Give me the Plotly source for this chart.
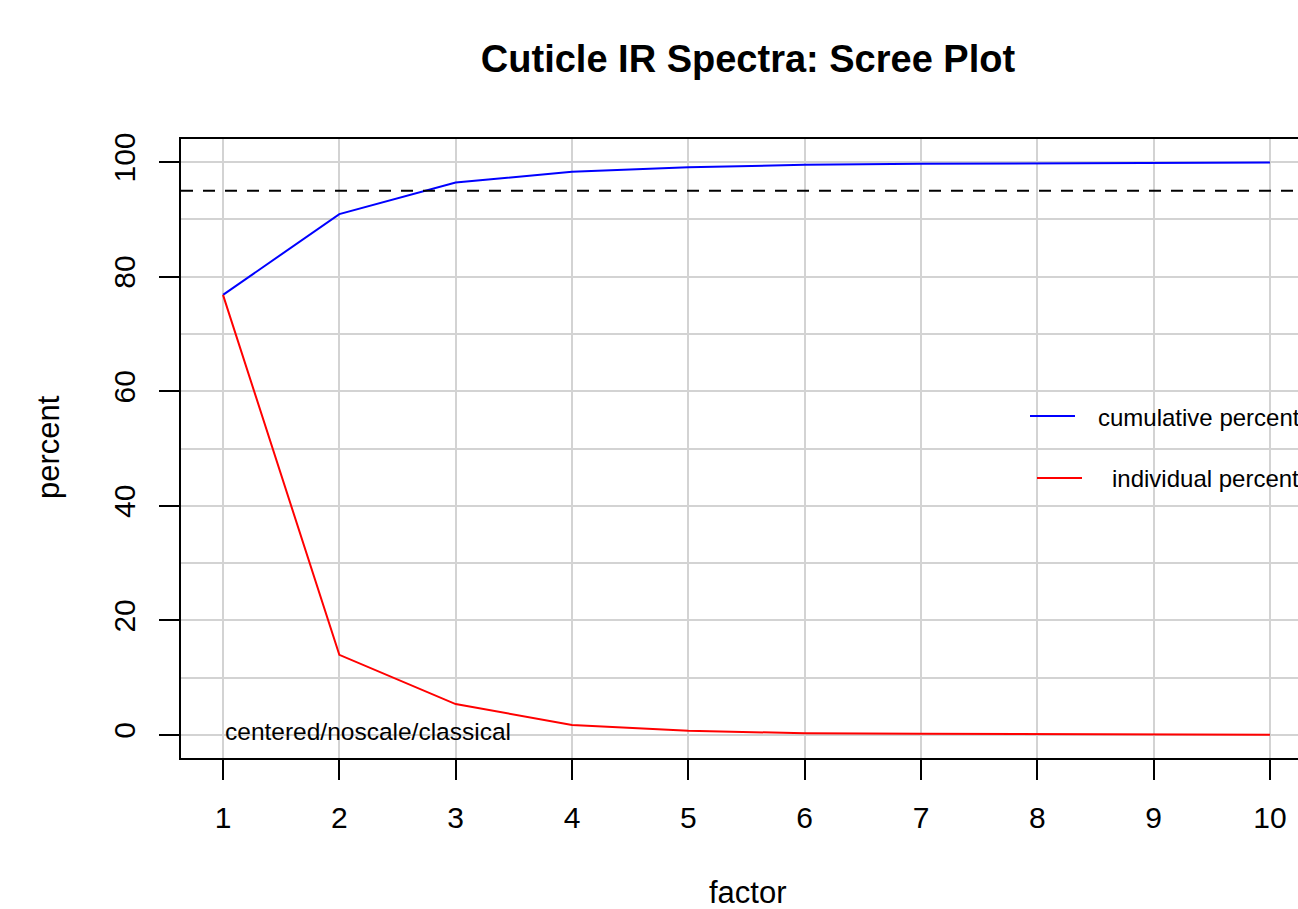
import plotly.graph_objects as go

# values
factors = [1, 2, 3, 4, 5, 6, 7, 8, 9, 10]
cumulative_pct = [76.8, 90.9, 96.4, 98.3, 99.1, 99.5, 99.7, 99.8, 99.85, 99.9]
individual_pct = [76.8, 14.0, 5.4, 1.75, 0.75, 0.3, 0.2, 0.15, 0.1, 0.05]
y_ticks = [0, 20, 40, 60, 80, 100]
cutoff = 95

FONT = "Liberation Sans, Arial, Helvetica, sans-serif"
W, H = 1298, 909
L, T, B = 181, 139, 151
PW, PH = W - L, H - T - B


def px_x(p):
    return (p - L) / PW


def px_y(p):
    return (H - B - p) / PH


fig = go.Figure()

fig.add_trace(go.Scatter(x=factors, y=cumulative_pct, mode="lines",
                         line=dict(color="#0000ff", width=2), showlegend=False))
fig.add_trace(go.Scatter(x=factors, y=individual_pct, mode="lines",
                         line=dict(color="#ff0000", width=2), showlegend=False))

# 95% cutoff
fig.add_shape(type="line", xref="paper", x0=0, x1=1, yref="y", y0=cutoff, y1=cutoff,
              line=dict(color="black", width=2, dash="12px,10px"), layer="above")

# legend drawn by hand (no box, runs into the right edge as in the reference)
fig.add_shape(type="line", xref="paper", yref="paper",
              x0=px_x(1030), x1=px_x(1075), y0=px_y(416), y1=px_y(416),
              line=dict(color="#0000ff", width=2))
fig.add_shape(type="line", xref="paper", yref="paper",
              x0=px_x(1037), x1=px_x(1082), y0=px_y(478), y1=px_y(478),
              line=dict(color="#ff0000", width=2))
fig.add_annotation(text="cumulative percent", xref="paper", yref="paper",
                   x=px_x(1096), y=px_y(417), xanchor="left", yanchor="middle",
                   showarrow=False, font=dict(family=FONT, size=24, color="black"))
fig.add_annotation(text="individual percent", xref="paper", yref="paper",
                   x=px_x(1110), y=px_y(479), xanchor="left", yanchor="middle",
                   showarrow=False, font=dict(family=FONT, size=24, color="black"))

fig.add_annotation(text="centered/noscale/classical", xref="x", yref="y",
                   x=1.0, y=0.7, xanchor="left", yanchor="middle",
                   showarrow=False, font=dict(family=FONT, size=24.5, color="black"))

# axis titles
fig.add_annotation(text="factor", xref="paper", yref="paper",
                   x=px_x(748), y=px_y(892), xanchor="center", yanchor="middle",
                   showarrow=False, font=dict(family=FONT, size=31, color="black"))
fig.add_annotation(text="percent", xref="paper", yref="paper",
                   x=px_x(48), y=px_y(447), xanchor="center", yanchor="middle",
                   textangle=-90, showarrow=False,
                   font=dict(family=FONT, size=31, color="black"))

fig.update_layout(
    width=W, height=H, autosize=False,
    margin=dict(l=L, r=0, t=T, b=B, pad=0),
    paper_bgcolor="white", plot_bgcolor="white",
    title=dict(text="<b>Cuticle IR Spectra: Scree Plot</b>",
               x=748 / W, xanchor="center", y=1 - 59 / H, yanchor="middle",
               font=dict(family=FONT, size=38, color="black")),
    font=dict(family=FONT, color="black"),
    showlegend=False,
)

fig.update_xaxes(
    range=[0.639, 10.241], tickvals=factors, ticks="outside", ticklen=20, tickwidth=2,
    tickcolor="black", showline=True, linewidth=2, linecolor="black", mirror=True,
    showgrid=True, gridcolor="#d3d3d3", gridwidth=2, zeroline=False,
    ticklabelstandoff=12,
    tickfont=dict(family=FONT, size=30, color="black"),
)
fig.update_yaxes(
    range=[-4.01, 104.01], tickvals=y_ticks, ticks="outside", ticklen=20, tickwidth=2,
    tickcolor="black", showline=True, linewidth=2, linecolor="black",
    showgrid=True, gridcolor="#d3d3d3", gridwidth=2, zeroline=False, tickangle=-90,
    ticklabelstandoff=12,
    minor=dict(dtick=10, showgrid=True, gridcolor="#d3d3d3", gridwidth=2, ticks=""),
    tickfont=dict(family=FONT, size=30, color="black"),
)

# drop the default 8px page margin so the figure fills the window exactly
fig.write_html("out.html",
               config={"displayModeBar": False},
               post_script="document.body.style.margin='0';"
                           "document.body.style.overflow='hidden';")
